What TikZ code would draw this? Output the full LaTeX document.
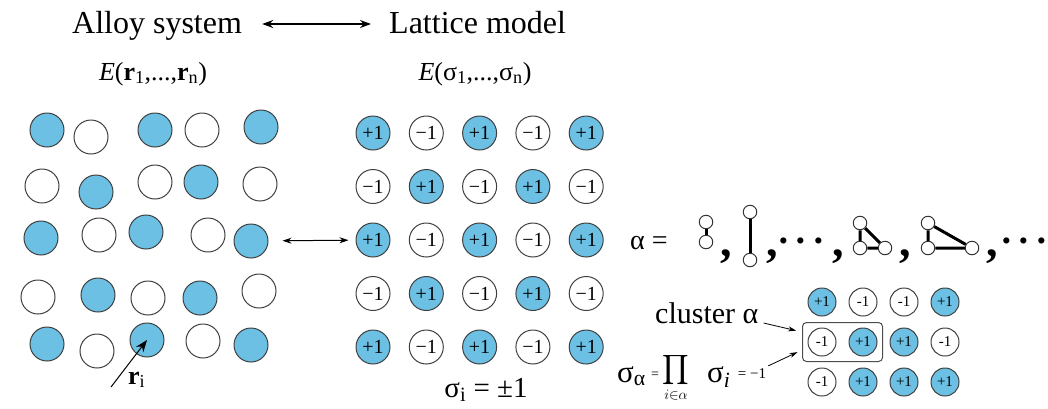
\documentclass[tikz,border=0pt]{standalone}
\usepackage{amsmath}
\usepackage{fontspec}
\setmainfont{Liberation Serif}
\usepackage{tikz}
\usetikzlibrary{arrows.meta, positioning, fit}
\definecolor{siteblue}{RGB}{108,192,228}

\begin{document}
\begin{tikzpicture}[
    x=1pt, y=-1pt,
    every node/.style={inner sep=0pt},
    title/.style={font=\fontsize{32}{38}\selectfont, text height=22pt, text depth=4pt},
    energy/.style={font=\fontsize{26}{31}\selectfont},
    site/.style={circle, draw=black!75, line width=1pt, minimum size=34pt, fill=white},
    host/.style={fill=white},
    occ/.style={fill=siteblue},
    spin/.style={site, font=\fontsize{20}{24}\selectfont},
    cell/.style={site, minimum size=28pt, font=\fontsize{15}{18}\selectfont},
    pt/.style={circle, draw=black!80, line width=1pt, fill=white, minimum size=13.5pt},
    bond/.style={line width=3pt},
    comma/.style={font=\fontsize{46}{52}\selectfont\bfseries, anchor=base},
    dotrow/.style={font=\fontsize{38}{44}\selectfont\bfseries, anchor=base},
    pointer/.style={line width=0.8pt, -{Stealth[length=8pt, width=5pt]}},
    >=Stealth
  ]
  \useasboundingbox (0,0) rectangle (1048,408);

  % headings
  \node[title, anchor=base west] (alloy) at (72,33) {Alloy system};
  \node[title, anchor=base west] (lattice) at (389,33) {Lattice model};
  \draw[{Stealth[length=11pt, width=8pt]}-{Stealth[length=11pt, width=8pt]}, line width=1.3pt,
        shorten <=20pt, shorten >=18pt] (alloy.east) -- (lattice.west);

  \node[energy, anchor=base] (Er) at (153,80) {\textit{E}(\textbf{r}\textsubscript{1},...,\textbf{r}\textsubscript{n})};
  \node[energy, anchor=base] (Es) at (475,80) {\textit{E}(σ\textsubscript{1},...,σ\textsubscript{n})};

  % alloy: atoms off their lattice points
  \foreach \x/\y/\k [count=\n] in {
      47/130/occ, 91/137/host, 155/130/occ, 202/130/host, 261/127/occ,
      42/186/host, 96/192/occ, 155/182/host, 201/182/occ, 260/184/host,
      41/238/occ, 99/235/host, 146/232/occ, 208/235/host, 251/241/occ,
      38/297/host, 98/295/occ, 148/298/host, 200/298/occ, 259/291/host,
      47/344/occ, 97/351/host, 147/340/occ, 203/341/host, 251/345/occ}
    \node[site, \k] (a\n) at (\x,\y) {};

  \coordinate (ritail) at (111,387);
  \draw[line width=1pt, -{Stealth[length=12pt, width=9pt]}] (ritail) -- (a23.center);
  \node[energy, anchor=base west] (rlabel) at (128,384) {\textbf{r}\textsubscript{i}};

  % lattice model: spins
  \foreach \r in {1,...,5}
    \foreach \c in {1,...,5} {
      \pgfmathtruncatemacro\odd{mod(\r+\c,2)}
      \ifnum\odd=0
        \node[spin, occ] (s\r\c) at ({373+(\c-1)*53.3},{133+(\r-1)*53.5}) {+1};
      \else
        \node[spin] (s\r\c) at ({373+(\c-1)*53.3},{133+(\r-1)*53.5}) {−1};
      \fi
    }

  \draw[{Stealth[length=9pt, width=6pt]}-{Stealth[length=9pt, width=6pt]}, line width=1pt,
        shorten <=14pt, shorten >=7pt] (a15) -- (s31);

  \node[font=\fontsize{29}{34}\selectfont, anchor=base] (sigma) at (486,397) {σ\textsubscript{i} = ±1};

  % clusters
  \node[font=\fontsize{28}{33}\selectfont, anchor=base west] (alpha) at (630,249) {α =};

  \node[pt] (d1a) at (706,222) {};
  \node[pt] (d1b) at (706,242) {};
  \draw[bond] (d1a) -- (d1b);
  \node[comma] (k1) at (726,256) {,};

  \node[pt] (d2a) at (750,212) {};
  \node[pt] (d2b) at (750,260) {};
  \draw[bond] (d2a) -- (d2b);
  \node[comma] (k2) at (772,256) {,};

  \node[dotrow] (dots1) at (801,253) {·\hspace{5pt}·\hspace{5pt}·};
  \node[comma] (k3) at (838,256) {,};

  \node[pt] (d3a) at (860,223) {};
  \node[pt] (d3b) at (860,248) {};
  \node[pt] (d3c) at (885,248) {};
  \draw[bond] (d3a) -- (d3b) -- (d3c) -- (d3a);
  \node[comma] (k4) at (905,256) {,};

  \node[pt] (d4a) at (928,223) {};
  \node[pt] (d4b) at (928,248) {};
  \node[pt] (d4c) at (972,248) {};
  \draw[bond] (d4a) -- (d4b) -- (d4c) -- (d4a);
  \node[comma] (k5) at (992,256) {,};

  \node[dotrow] (dots2) at (1024,253) {·\hspace{5pt}·\hspace{5pt}·};

  % cluster on a small lattice
  \foreach \r/\c/\v/\k in {
      1/1/+1/occ, 1/2/-1/host, 1/3/-1/host, 1/4/+1/occ,
      2/1/-1/host, 2/2/+1/occ, 2/3/+1/occ, 2/4/-1/host,
      3/1/-1/host, 3/2/+1/occ, 3/3/+1/occ, 3/4/+1/occ}
    \node[cell, \k] (c\r\c) at ({822+(\c-1)*41},{302+(\r-1)*40}) {\v};

  \node[fit=(c21)(c22), draw=black!70, line width=1pt, rounded corners=4pt, inner sep=5pt] (clbox) {};

  \node[font=\fontsize{30}{36}\selectfont, anchor=base west] (cllabel) at (655,323) {cluster α};
  \draw[pointer, shorten >=6pt] ([xshift=5pt]cllabel.base east) -- ([yshift=10pt]clbox.west);

  \node[font=\fontsize{31}{36}\selectfont, anchor=base west] (sigA) at (617,382) {σ\textsubscript{α}};
  \node[font=\fontsize{14}{16}\selectfont] (eq1) at (655,375) {=};
  \node[font=\fontsize{20}{24}\selectfont] (prod) at (676,378) {$\displaystyle\prod_{i\in\alpha}$};
  \node[font=\fontsize{31}{36}\selectfont, anchor=base west] (sigI) at (707,382) {σ\textsubscript{\textit{i}}};
  \node[font=\fontsize{15}{18}\selectfont] (eq2) at (752,374) {= −1};
  \draw[pointer, shorten >=5pt] ([xshift=2pt, yshift=3pt]eq2.north east) -- ([yshift=-8pt]clbox.west);
\end{tikzpicture}
\end{document}
